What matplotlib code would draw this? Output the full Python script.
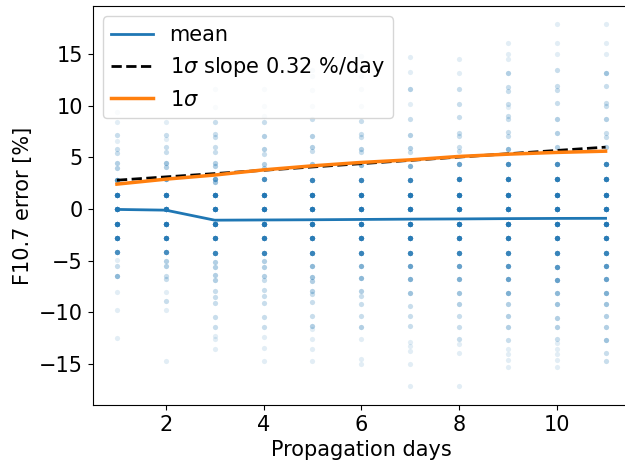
import numpy as np
import matplotlib
matplotlib.use("Agg")
import matplotlib.pyplot as plt

# Propagation day index
days = np.arange(1, 12)

# Per-day forecast error levels [%] and how many forecasts fall on each level
err_d1 = [9.4, 8.4, 7.2, 6.6, 5.8, 5.4, 4.45, 4.0, 2.85, 1.4, 0.0, -1.45, -2.8, -4.15, -4.9, -5.5, -6.5, -8.0, -9.75, -12.5]
cnt_d1 = [1, 1, 2, 1, 2, 2, 3, 3, 10, 25, 25, 25, 20, 12, 1, 2, 5, 1, 1, 1]

err_d2 = [8.4, 7.2, 6.8, 6.0, 5.5, 4.45, 4.1, 2.9, 1.4, 0.0, -1.45, -2.8, -4.15, -5.0, -5.5, -6.5, -6.8, -8.0, -8.9, -9.75, -14.7]
cnt_d2 = [1, 2, 1, 2, 2, 4, 3, 8, 25, 25, 25, 20, 12, 3, 3, 2, 2, 1, 2, 1, 1]

err_d3 = [11.6, 9.9, 8.4, 7.3, 7.0, 6.0, 5.5, 4.5, 4.2, 2.9, 2.6, 1.4, 0.0, -1.45, -2.8, -4.2, -5.1, -5.6, -6.4, -6.9, -7.9, -8.5, -9.1, -10.4, -11.4, -12.3, -12.6, -13.5]
cnt_d3 = [1, 1, 2, 2, 2, 2, 2, 3, 3, 8, 4, 25, 25, 25, 20, 15, 3, 3, 3, 3, 2, 2, 2, 2, 2, 1, 1, 1]

err_d4 = [11.6, 10.0, 9.0, 8.4, 7.1, 5.8, 5.3, 4.4, 4.0, 2.9, 1.4, 0.0, -1.45, -2.8, -4.2, -5.0, -5.6, -6.5, -6.9, -7.8, -8.4, -9.1, -10.4, -11.4, -12.4, -13.4, -14.7]
cnt_d4 = [1, 1, 1, 2, 3, 3, 2, 3, 3, 12, 25, 25, 25, 20, 15, 3, 3, 3, 2, 2, 2, 2, 2, 2, 1, 1, 1]

err_d5 = [13.5, 12.9, 11.5, 10.0, 8.7, 7.1, 6.0, 5.6, 4.4, 2.8, 1.4, 0.0, -1.45, -2.8, -4.2, -5.5, -6.6, -7.0, -7.9, -8.2, -9.0, -10.3, -11.3, -11.6, -12.6, -13.5, -14.7]
cnt_d5 = [1, 1, 1, 1, 2, 3, 3, 2, 4, 15, 25, 25, 25, 20, 15, 5, 4, 3, 3, 2, 2, 2, 3, 1, 1, 1, 1]

err_d6 = [14.8, 12.9, 11.6, 10.0, 8.5, 7.3, 7.0, 5.8, 5.5, 4.3, 2.8, 1.4, 0.0, -1.45, -2.8, -4.2, -5.5, -6.7, -7.9, -8.4, -9.2, -10.3, -11.4, -12.6, -14.5, -15.0]
cnt_d6 = [1, 1, 1, 1, 2, 2, 2, 3, 2, 5, 15, 25, 25, 25, 20, 15, 6, 5, 3, 2, 2, 2, 3, 1, 1, 1]

err_d7 = [14.7, 13.3, 11.6, 10.2, 8.7, 7.2, 5.9, 5.5, 4.2, 2.8, 1.4, 0.0, -1.45, -2.8, -4.2, -5.5, -6.8, -8.1, -9.4, -10.3, -11.3, -12.9, -13.3, -13.7, -15.0, -17.1]
cnt_d7 = [1, 1, 3, 1, 2, 3, 3, 2, 6, 15, 25, 25, 25, 20, 15, 8, 6, 4, 2, 2, 2, 1, 1, 1, 1, 1]

err_d8 = [14.5, 13.2, 11.6, 10.2, 8.9, 7.4, 7.1, 6.0, 5.6, 4.4, 2.9, 1.4, 0.0, -1.45, -2.8, -4.2, -5.5, -6.8, -8.1, -9.2, -10.3, -11.4, -12.6, -13.1, -13.9, -17.1]
cnt_d8 = [1, 1, 2, 2, 2, 2, 2, 2, 2, 8, 18, 25, 25, 25, 20, 15, 8, 6, 4, 3, 2, 2, 2, 1, 1, 1]

err_d9 = [16.1, 15.0, 14.5, 13.2, 11.8, 11.4, 10.2, 9.9, 9.0, 8.7, 7.5, 7.1, 5.8, 4.4, 2.9, 1.4, 0.0, -1.45, -2.8, -4.2, -5.5, -6.8, -8.1, -9.2, -10.3, -11.4, -12.7, -13.5, -14.0, -14.6, -15.3]
cnt_d9 = [1, 1, 1, 3, 2, 2, 2, 1, 2, 2, 2, 2, 5, 12, 20, 25, 25, 25, 20, 15, 10, 8, 6, 3, 3, 3, 2, 1, 1, 1, 1]

err_d10 = [17.9, 16.1, 15.0, 13.5, 11.9, 11.5, 10.3, 8.7, 7.4, 6.0, 4.4, 2.9, 1.4, 0.0, -1.45, -2.8, -4.2, -5.6, -6.9, -8.1, -9.2, -10.5, -11.4, -12.6, -13.0, -13.5, -14.0, -14.6, -15.3]
cnt_d10 = [1, 1, 1, 2, 2, 2, 2, 3, 3, 3, 12, 20, 25, 25, 25, 20, 15, 10, 8, 5, 4, 3, 3, 2, 1, 1, 1, 1, 1]

err_d11 = [17.9, 16.1, 15.0, 13.2, 11.9, 10.3, 10.0, 8.7, 7.4, 7.0, 6.0, 4.4, 2.9, 1.4, 0.0, -1.45, -2.8, -4.2, -5.5, -6.8, -8.1, -9.2, -10.3, -11.4, -12.7, -13.9, -14.7]
cnt_d11 = [1, 1, 1, 4, 2, 2, 2, 3, 2, 2, 3, 15, 20, 25, 25, 25, 20, 15, 10, 8, 6, 4, 3, 3, 4, 2, 2]

# Summary statistics per propagation day
mean_err = [-0.03, -0.1, -1.07, -1.05, -1.03, -1.0, -0.97, -0.95, -0.92, -0.9, -0.89]
sigma_err = [2.42, 2.9, 3.3, 3.8, 4.19, 4.52, 4.77, 5.1, 5.32, 5.49, 5.61]

# Linear fit of the 1-sigma growth
slope = 0.32
intercept = 2.48

err_by_day = [err_d1, err_d2, err_d3, err_d4, err_d5, err_d6, err_d7, err_d8, err_d9, err_d10, err_d11]
cnt_by_day = [cnt_d1, cnt_d2, cnt_d3, cnt_d4, cnt_d5, cnt_d6, cnt_d7, cnt_d8, cnt_d9, cnt_d10, cnt_d11]

xs, ys = [], []
for d, vals, cnts in zip(days, err_by_day, cnt_by_day):
    for v, c in zip(vals, cnts):
        xs.extend([d] * c)
        ys.extend([v] * c)

plt.rcParams['font.family'] = ['DejaVu Sans']
fig = plt.figure(figsize=(6.25, 4.66), dpi=100)
ax = fig.add_axes([0.148, 0.131, 0.86, 0.856])

ax.scatter(xs, ys, s=14, color='C0', alpha=0.13, linewidths=0)
ax.plot(days, mean_err, color='C0', lw=2.0, label='mean')
ax.plot(days, slope * days + intercept, color='black', ls='--', lw=2.0,
        label=r'$1\sigma$ slope %.2f %%/day' % slope)
ax.plot(days, sigma_err, color='C1', lw=2.5, label=r'$1\sigma$')

ax.set_xlim(0.5, 11.5)
ax.set_ylim(-18.96, 19.66)
ax.set_xticks([2, 4, 6, 8, 10])
ax.set_yticks([-15, -10, -5, 0, 5, 10, 15])
ax.tick_params(labelsize=15)
ax.set_xlabel('Propagation days', fontsize=15)
ax.set_ylabel('F10.7 error [%]', fontsize=15)
ax.legend(loc='upper left', fontsize=15)

fig.savefig('out.png', dpi=100)
